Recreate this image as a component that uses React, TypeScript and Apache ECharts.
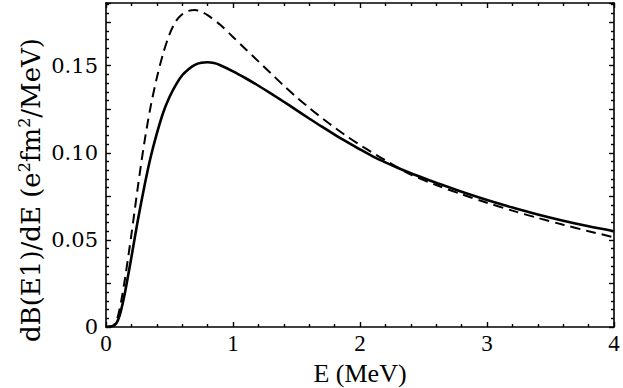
import { useEffect, useRef } from 'react';
import * as echarts from 'echarts';

const solidE = [0, 0.04, 0.06, 0.08, 0.10, 0.12, 0.15, 0.20, 0.25, 0.30, 0.35, 0.40, 0.45, 0.50, 0.55, 0.60, 0.65, 0.70, 0.75, 0.80, 0.85, 0.90, 1.0, 1.1, 1.2, 1.3, 1.4, 1.5, 1.6, 1.7, 1.8, 1.9, 2.0, 2.1, 2.2, 2.3, 2.4, 2.5, 2.6, 2.8, 3.0, 3.2, 3.4, 3.6, 3.8, 4.0];
const solidV = [0, 0.0003, 0.0008, 0.002, 0.005, 0.010, 0.020, 0.040, 0.061, 0.080, 0.097, 0.111, 0.123, 0.132, 0.139, 0.1445, 0.148, 0.1505, 0.1517, 0.152, 0.1515, 0.1503, 0.1468, 0.1428, 0.1385, 0.1340, 0.1293, 0.1245, 0.1197, 0.1150, 0.1105, 0.1062, 0.1020, 0.0980, 0.0945, 0.0913, 0.0883, 0.0855, 0.0828, 0.0776, 0.0729, 0.0686, 0.0646, 0.0610, 0.0578, 0.0550];

const dashedE = [0, 0.04, 0.06, 0.08, 0.10, 0.12, 0.15, 0.20, 0.25, 0.30, 0.35, 0.40, 0.45, 0.50, 0.55, 0.60, 0.65, 0.70, 0.75, 0.80, 0.90, 1.0, 1.1, 1.2, 1.3, 1.4, 1.5, 1.6, 1.7, 1.8, 1.9, 2.0, 2.1, 2.2, 2.4, 2.6, 2.8, 3.0, 3.2, 3.4, 3.6, 3.8, 4.0];
const dashedV = [0, 0.0004, 0.001, 0.003, 0.008, 0.015, 0.028, 0.053, 0.080, 0.105, 0.126, 0.143, 0.157, 0.168, 0.1755, 0.1795, 0.1815, 0.182, 0.181, 0.179, 0.1735, 0.1665, 0.1595, 0.1525, 0.1455, 0.1385, 0.1320, 0.1258, 0.1200, 0.1145, 0.1093, 0.1045, 0.1000, 0.0957, 0.0875, 0.0815, 0.0762, 0.0713, 0.0668, 0.0626, 0.0587, 0.0550, 0.0515];

const xTickLabels = ['0', '1', '2', '3', '4'];
const yTickLabels = ['0', '0.05', '0.10', '0.15'];

const FONT = 'Liberation Serif';
const FONT2 = 'DejaVu Serif';

export default function App() {
  const ref = useRef<HTMLDivElement>(null);
  useEffect(() => {
    document.body.style.margin = '0';
    const chart = echarts.init(ref.current!, undefined, { renderer: 'svg' });
    const lineStyle = { color: '#000', width: 1.6 };
    const baseX = {
      type: 'value' as const,
      min: 0,
      max: 4,
      interval: 1,
      axisLine: { show: true, onZero: false, lineStyle },
      axisTick: { show: true, inside: true, length: 5, lineStyle: { color: '#000', width: 1.4 } },
      minorTick: { show: true, splitNumber: 5, length: 3, lineStyle: { color: '#000', width: 1.4 } },
      splitLine: { show: false },
    };
    const baseY = {
      type: 'value' as const,
      min: 0,
      max: 0.186,
      interval: 0.025,
      axisLine: { show: true, onZero: false, lineStyle },
      axisTick: { show: true, inside: true, length: 5, lineStyle: { color: '#000', width: 1.4 } },
      minorTick: { show: true, splitNumber: 5, length: 3, lineStyle: { color: '#000', width: 1.4 } },
      splitLine: { show: false },
    };
    const yLabel = (v: number) => {
      const k = Math.round(v * 1000);
      if (k % 50 !== 0) return '';
      return yTickLabels[k / 50] ?? '';
    };
    const xLabel = (v: number) => {
      const k = Math.round(v);
      return Math.abs(v - k) < 1e-6 ? xTickLabels[k] ?? '' : '';
    };
    chart.setOption({
      animation: false,
      grid: { left: 106, right: 9, top: 3, bottom: 61, containLabel: false },
      xAxis: [
        {
          ...baseX,
          position: 'bottom',
          axisLabel: { show: true, formatter: xLabel, color: '#000', fontFamily: FONT, fontSize: 23, margin: 5 },
        },
        { ...baseX, position: 'top', axisLabel: { show: false } },
      ],
      yAxis: [
        {
          ...baseY,
          position: 'left',
          axisLabel: { show: true, formatter: yLabel, color: '#000', fontFamily: FONT2, fontSize: 21, margin: 8 },
        },
        { ...baseY, position: 'right', axisLabel: { show: false } },
      ],
      graphic: [
        {
          type: 'text',
          x: 360,
          y: 373,
          style: { text: 'E (MeV)', fontFamily: FONT, fontSize: 26, fill: '#000', align: 'center', verticalAlign: 'middle' },
        },
        {
          type: 'text',
          x: 30,
          y: 190,
          rotation: Math.PI / 2,
          style: {
            text: '{n|dB(E1)/dE (e}{s|2}{n|fm}{s|2}{n|/MeV)}',
            align: 'center',
            verticalAlign: 'middle',
            fill: '#000',
            rich: {
              n: { fontFamily: FONT2, fontSize: 26, fill: '#000', verticalAlign: 'bottom', lineHeight: 28 },
              s: { fontFamily: FONT2, fontSize: 16, fill: '#000', verticalAlign: 'top', lineHeight: 28 },
            },
          },
        },
      ],
      series: [
        {
          type: 'line',
          data: solidE.map((e, i) => [e, solidV[i]]),
          showSymbol: false,
          smooth: 0.3,
          lineStyle: { color: '#000', width: 2.6 },
          z: 3,
        },
        {
          type: 'line',
          data: dashedE.map((e, i) => [e, dashedV[i]]),
          showSymbol: false,
          smooth: 0.3,
          lineStyle: { color: '#000', width: 2, type: [10, 6] },
          z: 2,
        },
      ],
    });
    return () => chart.dispose();
  }, []);
  return <div ref={ref} style={{ width: 623, height: 388 }} />;
}
